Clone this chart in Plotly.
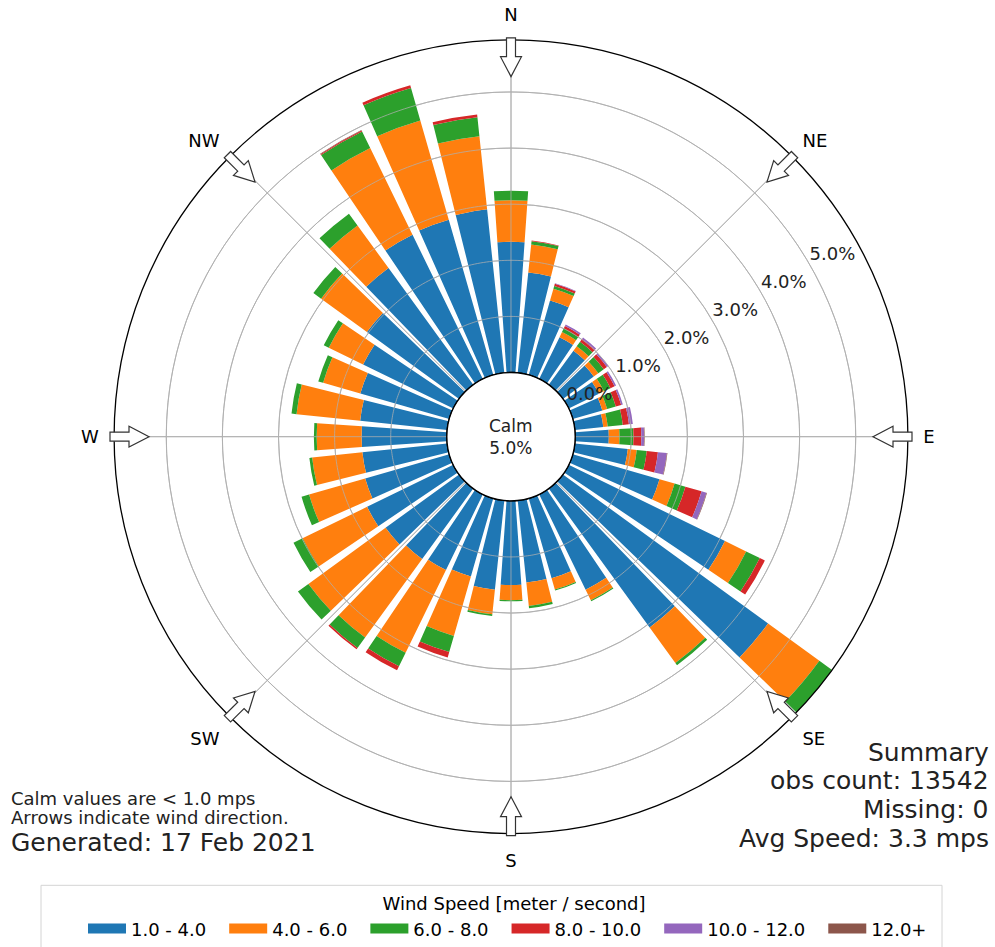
import numpy as np
import plotly.graph_objects as go

# ---------------- data ----------------
directions = list(range(0, 360, 10))          # bin centres, degrees clockwise from N
speed_bins = ["1.0 - 4.0", "4.0 - 6.0", "6.0 - 8.0", "8.0 - 10.0", "10.0 - 12.0", "12.0+"]
colors = ["#1f77b4", "#ff7f0e", "#2ca02c", "#d62728", "#9467bd", "#8c564b"]

# percent of all observations, per direction, for each speed bin
pct_1_4 = [2.33, 1.80, 1.38, 0.83, 0.75, 0.68, 0.60, 0.55, 0.51, 0.60, 0.95, 1.61,
           3.10, 4.52, 3.06, 1.89, 1.48, 1.47, 1.50, 1.60, 1.45, 1.50, 1.55, 1.62,
           1.71, 1.56, 1.52, 1.52, 1.56, 1.65, 1.79, 2.03, 2.57, 2.86, 2.88, 2.93]
pct_4_6 = [0.74, 0.50, 0.22, 0.10, 0.10, 0.10, 0.10, 0.09, 0.08, 0.19, 0.16, 0.28,
           0.42, 1.13, 0.78, 0.21, 0.21, 0.42, 0.27, 0.44, 1.10, 1.64, 1.73, 1.70,
           1.28, 1.04, 0.90, 0.80, 1.14, 0.69, 0.68, 1.01, 0.94, 1.72, 1.84, 1.31]
pct_6_8 = [0.17, 0.06, 0.05, 0.07, 0.10, 0.12, 0.13, 0.16, 0.27, 0.25, 0.18, 0.20,
           0.27, 0.28, 0.05, 0.02, 0.02, 0.04, 0.02, 0.03, 0.30, 0.27, 0.23, 0.23,
           0.18, 0.14, 0.05, 0.05, 0.09, 0.09, 0.10, 0.17, 0.26, 0.33, 0.60, 0.34]
pct_8_10 = [0.00, 0.01, 0.04, 0.05, 0.06, 0.07, 0.08, 0.10, 0.11, 0.14, 0.20, 0.30,
            0.10, 0.00, 0.00, 0.00, 0.00, 0.00, 0.00, 0.00, 0.10, 0.08, 0.03, 0.00,
            0.00, 0.00, 0.00, 0.00, 0.00, 0.00, 0.00, 0.00, 0.00, 0.02, 0.05, 0.05]
pct_10_12 = [0.00, 0.00, 0.01, 0.03, 0.03, 0.03, 0.03, 0.03, 0.07, 0.05, 0.16, 0.09,
             0.00, 0.00, 0.00, 0.00, 0.00, 0.00, 0.00, 0.00, 0.00, 0.00, 0.00, 0.00,
             0.00, 0.00, 0.00, 0.00, 0.00, 0.00, 0.00, 0.00, 0.00, 0.00, 0.00, 0.00]
pct_12_plus = [0.00, 0.00, 0.00, 0.00, 0.00, 0.00, 0.00, 0.00, 0.00, 0.01, 0.01, 0.01,
               0.00, 0.00, 0.00, 0.00, 0.00, 0.00, 0.00, 0.00, 0.00, 0.00, 0.00, 0.00,
               0.00, 0.00, 0.00, 0.00, 0.00, 0.00, 0.00, 0.00, 0.00, 0.01, 0.00, 0.00]
series = [pct_1_4, pct_4_6, pct_6_8, pct_8_10, pct_10_12, pct_12_plus]

ring_ticks = [0, 1, 2, 3, 4, 5]
ring_labels = ["0.0%", "1.0%", "2.0%", "3.0%", "4.0%", "5.0%"]
compass_angles = [0, 45, 90, 135, 180, 225, 270, 315]
compass_labels = ["N", "NE", "E", "SE", "S", "SW", "W", "NW"]

calm_pct = 5.0
calm_limit = 1.0
obs_count = 13542
missing = 0
avg_speed = 3.3
generated = "17 Feb 2021"

# ---------------- geometry / style ----------------
W, H = 995, 947
cx, cy, R = 511, 439, 399          # polar centre and outer radius (px)
hole_px = 64.5
FONT = "DejaVu Sans"
LEG_FONT = 18

totals = np.sum(np.array(series), axis=0)
rmax = float(totals.max())


def px(x):
    return x / W


def py(y):
    return 1 - y / H


# approximate DejaVu Sans advance widths (em) for legend spacing
_cw = {c: 0.636 for c in "0123456789"}
_cw.update({".": 0.318, " ": 0.318, "-": 0.361, "+": 0.838})


def text_w(s, size):
    return sum(_cw.get(c, 0.6) for c in s) * size


fig = go.Figure()

for name, vals, col in zip(speed_bins, series, colors):
    fig.add_trace(go.Barpolar(
        r=vals, theta=directions, width=8, name=name,
        marker=dict(color=col, line=dict(width=0)),
        showlegend=False, hoverinfo="skip"))

# grid drawn above the bars (as in the reference)
grid_col = "rgba(176,176,176,0.75)"
ring_theta = np.arange(0, 361, 1)
for t in ring_ticks[1:]:
    fig.add_trace(go.Scatterpolar(
        r=[t] * len(ring_theta), theta=ring_theta, mode="lines",
        line=dict(color=grid_col, width=1), showlegend=False, hoverinfo="skip"))
for a in compass_angles:
    fig.add_trace(go.Scatterpolar(
        r=[0, rmax], theta=[a, a], mode="lines",
        line=dict(color=grid_col, width=1), showlegend=False, hoverinfo="skip"))

# calm circle
fig.add_trace(go.Scatterpolar(
    r=[0] * len(ring_theta), theta=ring_theta, mode="lines",
    line=dict(color="black", width=1.5), showlegend=False, hoverinfo="skip"))

# radial labels
fig.add_trace(go.Scatterpolar(
    r=ring_ticks, theta=[60] * len(ring_ticks), mode="text", text=ring_labels,
    textposition="top right", textfont=dict(family=FONT, size=18, color="#222222"),
    showlegend=False, hoverinfo="skip", cliponaxis=False))

# legend entries
for name, col in zip(speed_bins, colors):
    fig.add_trace(go.Scatterpolar(
        r=[None], theta=[None], mode="lines", name=name,
        line=dict(color=col, width=12), showlegend=True, hoverinfo="skip",
        legendwidth=text_w(name, LEG_FONT) + 13))

fig.update_layout(
    width=W, height=H,
    margin=dict(l=0, r=0, t=0, b=0),
    paper_bgcolor="white", plot_bgcolor="white",
    font=dict(family=FONT, size=18, color="black"),
    polar=dict(
        domain=dict(x=[px(cx - R), px(cx + R)], y=[py(cy + R), py(cy - R)]),
        hole=hole_px / R,
        bgcolor="white",
        barmode="stack",
        angularaxis=dict(
            direction="clockwise", rotation=90,
            tickmode="array", tickvals=compass_angles, ticktext=compass_labels,
            showgrid=True, gridcolor="#b0b0b0", gridwidth=1,
            showline=True, linecolor="black", linewidth=1.3,
            ticks="outside", ticklen=11, tickcolor="rgba(0,0,0,0)",
            tickfont=dict(family=FONT, size=18, color="black")),
        radialaxis=dict(
            range=[0, rmax], tickmode="array", tickvals=ring_ticks,
            showticklabels=False, ticks="", showline=False,
            gridcolor="#b0b0b0", gridwidth=1)),
    legend=dict(
        orientation="h", x=px(83), xanchor="left", y=py(892), yanchor="top",
        title=dict(text="Wind Speed [meter / second]", side="top center",
                   font=dict(family=FONT, size=LEG_FONT)),
        font=dict(family=FONT, size=LEG_FONT, color="black"),
        borderwidth=0, bgcolor="rgba(0,0,0,0)",
        itemwidth=38),
)

# hollow arrows at the compass points, pointing to the centre
shapes = []
for a in compass_angles:
    th = np.deg2rad(a)
    ux, uy = np.sin(th), -np.cos(th)      # outward unit vector in px space (y down)
    vx, vy = -uy, ux                       # perpendicular
    tail, base, tip = R + 2, R - 17, R - 37
    sw, hw = 4.5, 10.5
    pts_local = [(tail, -sw), (base, -sw), (base, -hw), (tip, 0),
                 (base, hw), (base, sw), (tail, sw)]
    path = ""
    for i, (rr, ww) in enumerate(pts_local):
        x = cx + rr * ux + ww * vx
        y = cy + rr * uy + ww * vy
        path += ("M" if i == 0 else "L") + f"{px(x):.5f},{py(y):.5f}"
    path += "Z"
    shapes.append(dict(type="path", path=path, xref="paper", yref="paper",
                       fillcolor="white", line=dict(color="#333333", width=1.2)))

# legend frame
shapes.append(dict(type="rect", xref="paper", yref="paper",
                   x0=px(41), x1=px(942), y0=py(965), y1=py(890),
                   line=dict(color="#d4d4d4", width=1), fillcolor="rgba(255,255,255,0.8)",
                   layer="below"))
fig.update_layout(shapes=shapes)

ann = []
ann.append(dict(text=f"Calm<br>{calm_pct:.1f}%", x=px(cx), y=py(cy), xref="paper", yref="paper",
                showarrow=False, font=dict(family=FONT, size=17, color="#222222"),
                xanchor="center", yanchor="middle", align="center"))
ann.append(dict(text=f"Calm values are < {calm_limit:.1f} mps", x=px(9), y=py(803),
                xref="paper", yref="paper", showarrow=False, xanchor="left", yanchor="middle",
                font=dict(family=FONT, size=18, color="#222222")))
ann.append(dict(text="Arrows indicate wind direction.", x=px(9), y=py(822),
                xref="paper", yref="paper", showarrow=False, xanchor="left", yanchor="middle",
                font=dict(family=FONT, size=18, color="#222222")))
ann.append(dict(text=f"Generated: {generated}", x=px(9), y=py(847),
                xref="paper", yref="paper", showarrow=False, xanchor="left", yanchor="middle",
                font=dict(family=FONT, size=25, color="#222222")))
summary = ["Summary", f"obs count: {obs_count}", f"Missing: {missing}", f"Avg Speed: {avg_speed} mps"]
for i, s in enumerate(summary):
    ann.append(dict(text=s, x=px(991), y=py(756 + 29 * i), xref="paper", yref="paper",
                    showarrow=False, xanchor="right", yanchor="middle",
                    font=dict(family=FONT, size=25, color="#222222")))
fig.update_layout(annotations=ann)

fig.write_html("out.html", config={"displayModeBar": False},
               post_script="document.body.style.margin='0';document.body.style.overflow='hidden';")
